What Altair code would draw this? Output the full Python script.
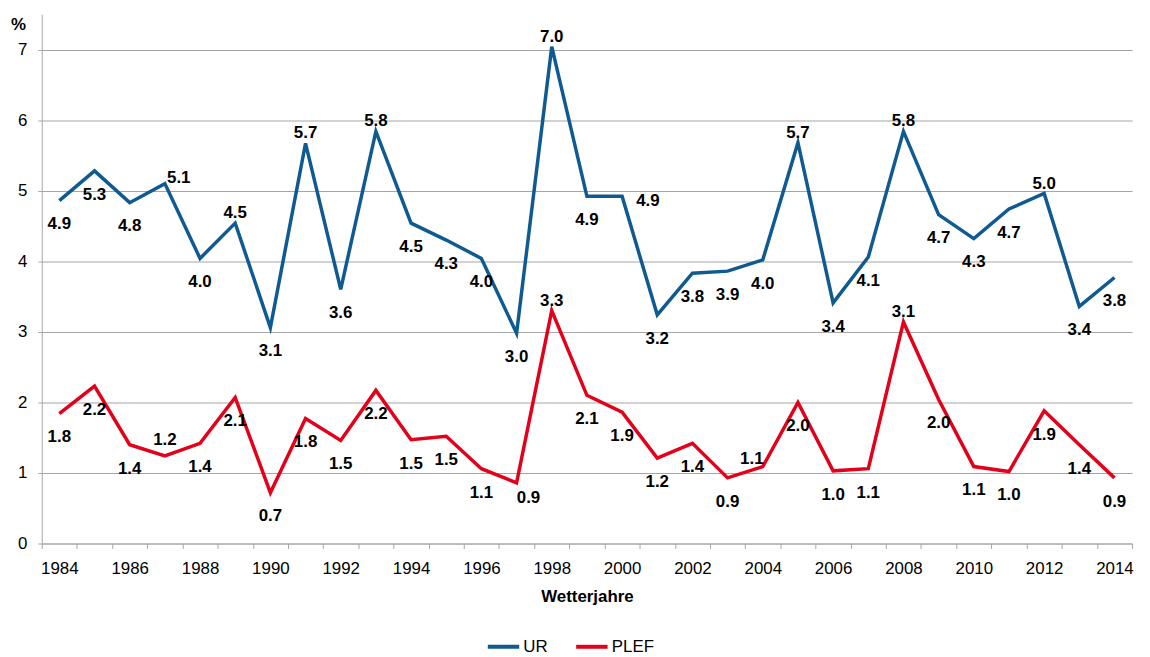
import altair as alt
import pandas as pd

years = list(range(1984, 2015))
ur = [4.86, 5.28, 4.83, 5.10, 4.04, 4.54, 3.06, 5.67, 3.60, 5.84, 4.54, 4.30, 4.04, 2.98, 7.04, 4.92,
      4.92, 3.24, 3.83, 3.86, 4.02, 5.68, 3.41, 4.06, 5.84, 4.66, 4.32, 4.74, 4.96, 3.36, 3.77]
plef = [1.84, 2.23, 1.40, 1.24, 1.42, 2.07, 0.72, 1.77, 1.46, 2.17, 1.47, 1.52, 1.06, 0.86, 3.30, 2.10,
        1.86, 1.21, 1.42, 0.93, 1.09, 2.00, 1.03, 1.06, 3.14, 2.04, 1.09, 1.02, 1.88, 1.40, 0.93]
series = ["UR", "PLEF"]
colors = ["#0f5a91", "#e2001a"]

# label placement codes (b = below, a = above, r = right, ...)
ur_label_pos = ["b", "b", "b", "ar", "b", "a", "b", "a", "b", "a", "b", "b", "b", "b", "a", "b",
                "r", "b", "b", "b", "b", "a", "b", "b", "a", "b", "b", "b", "a", "b", "b"]
plef_label_pos = ["b", "b", "b", "a2", "b", "b", "b", "b", "b", "b", "b", "b", "b", "br", "a", "b",
                  "b", "b", "b", "b", "al", "b", "b", "b", "a", "b", "b", "b", "b", "b", "b"]
offsets = {"b": (0, 24), "a": (0, -10), "a2": (0, -16), "ar": (14, -6),
           "r": (26, 5), "br": (12, 15), "al": (-11, -8)}

rows = []
for name, vals, poss in [("UR", ur, ur_label_pos), ("PLEF", plef, plef_label_pos)]:
    for yr, v, p in zip(years, vals, poss):
        rows.append({"Jahr": yr, "Wert": v, "Reihe": name, "pos": p})
df = pd.DataFrame(rows)

FONT = "Liberation Sans"
GRAY = "#a6a6a6"

x = alt.X(
    "Jahr:O",
    scale=alt.Scale(type="band", paddingInner=0, paddingOuter=0),
    axis=alt.Axis(
        title="Wetterjahre", titleFont=FONT, titleFontSize=17, titleFontWeight="bold",
        titleColor="#000", titleY=53, titleBaseline="middle",
        labelExpr="toNumber(datum.value) % 2 == 0 ? datum.label : ''",
        labelAngle=0, labelFont=FONT, labelFontSize=17, labelColor="#000", labelPadding=12,
        tickBand="extent", tickSize=5, tickColor=GRAY, domainColor=GRAY, grid=False,
    ),
)
y = alt.Y(
    "Wert:Q",
    scale=alt.Scale(domain=[0, 7.5], nice=False),
    axis=alt.Axis(
        title="%", titleAngle=0, titleX=-24, titleY=10, titleAlign="center",
        titleBaseline="middle", titleFont=FONT, titleFontSize=17, titleFontWeight="bold",
        titleColor="#000",
        values=[0, 1, 2, 3, 4, 5, 6, 7], format="d",
        labelFont=FONT, labelFontSize=17, labelColor="#000", labelPadding=11,
        tickSize=4, tickColor=GRAY, domainColor=GRAY, gridColor=GRAY, gridWidth=1.2,
    ),
)

base = alt.Chart(df).encode(x=x, y=y)

lines = base.mark_line(strokeWidth=3.5).encode(
    color=alt.Color(
        "Reihe:N",
        scale=alt.Scale(domain=series, range=colors),
        legend=alt.Legend(
            orient="none", legendX=447, legendY=619, direction="horizontal", title=None,
            symbolType="stroke", symbolStrokeWidth=4, symbolSize=1000,
            labelFont=FONT, labelFontSize=17, labelColor="#000", columnPadding=20, labelOffset=2,
        ),
    )
)

label_layers = []
for code, (ddx, ddy) in offsets.items():
    label_layers.append(
        base.transform_filter(alt.datum.pos == code)
        .mark_text(dx=ddx, dy=ddy, font=FONT, fontSize=17, fontWeight="bold",
                   color="#000", align="center", baseline="middle")
        .encode(text=alt.Text("Wert:Q", format=".1f"))
    )

chart = (
    alt.layer(lines, *label_layers)
    .properties(
        width=1098, height=533,
        autosize=alt.AutoSizeParams(type="none"),
        padding={"left": 34, "top": 4, "right": 10, "bottom": 112},
    )
    .configure_view(stroke=None)
)

chart.save("out.html", embed_options={"renderer": "svg", "actions": False})
